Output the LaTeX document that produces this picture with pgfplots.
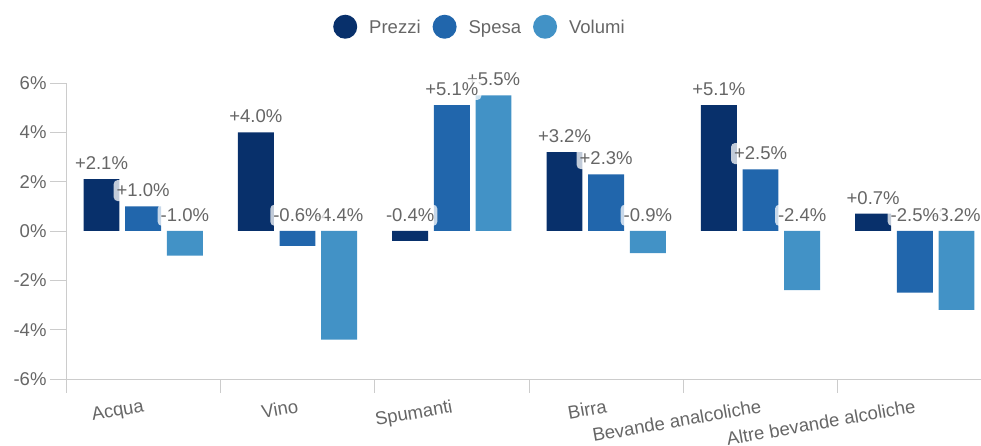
\documentclass[border=0pt]{standalone}
\usepackage{pgfplots}
\pgfplotsset{compat=1.18}
\usepackage{pgfplotstable}
\usepackage{fontspec}
\setmainfont{Liberation Sans}
\definecolor{cP}{HTML}{08306B}
\definecolor{cS}{HTML}{2166AC}
\definecolor{cV}{HTML}{4292C6}
\definecolor{txt}{HTML}{666666}
\definecolor{axc}{HTML}{CCCCCC}
\pgfplotstableread{
cat Prezzi Spesa Volumi
0 2.1 1.0 -1.0
1 4.0 -0.6 -4.4
2 -0.4 5.1 5.5
3 3.2 2.3 -0.9
4 5.1 2.5 -2.4
5 0.7 -2.5 -3.2
}\data
\pgfplotsset{
  lbl/.style={draw=none, mark=none, forget plot, point meta=explicit,
    nodes near coords={\pgfmathprintnumber[showpos,fixed,fixed zerofill,precision=1,assume math mode=true]{\pgfplotspointmeta}\%},
    every node near coord/.append style={anchor=south, yshift=5pt, fill=white, fill opacity=0.75, text opacity=1, text=txt, rounded corners=4pt, inner xsep=3pt, inner ysep=4pt}},
}
\begin{document}
\begin{tikzpicture}[x=1pt,y=1pt,font=\fontsize{18.5}{22}\selectfont]
\useasboundingbox (0,0) rectangle (981,446);
\begin{axis}[
  at={(66pt,67pt)}, anchor=south west,
  scale only axis, width=926pt, height=296pt,
  xmin=-0.5, xmax=5.5, ymin=-6, ymax=6,
  clip=false,
  axis x line*=bottom, axis y line*=left,
  axis line style={-, draw=axc, line width=0.8pt},
  tick align=outside,
  ytick={-6,-4,...,6},
  major tick length=16pt,
  minor tick length=14pt,
  xtick={0,...,5},
  xticklabels={Acqua, Vino, Spumanti, Birra, Bevande analcoliche, Altre bevande alcoliche},
  minor xtick={-0.5,0.5,...,5.5},
  major x tick style={draw=none},
  tick style={draw=axc, line width=0.8pt},
  /pgf/number format/assume math mode=true,
  yticklabel={\pgfmathprintnumber{\tick}\%},
  yticklabel style={text=txt},
  xticklabel style={text=txt, yshift=0pt, xshift=2pt, rotate=10, anchor=north east},
  legend style={at={(axis description cs:0.447,1.19)}, anchor=center, draw=none, fill=none, legend columns=-1, text=txt, /tikz/every even column/.append style={column sep=10pt}, /tikz/every odd column/.append style={column sep=10pt}},
]
\addplot[ybar, bar width=0.233, bar shift=-0.27, fill=cP, draw=none, legend image code/.code={\fill[cP] (12pt,1pt) circle (12pt);}] table[x=cat,y=Prezzi]{\data};
\addplot[ybar, bar width=0.233, bar shift=0, fill=cS, draw=none, legend image code/.code={\fill[cS] (12pt,1pt) circle (12pt);}] table[x=cat,y=Spesa]{\data};
\addplot[ybar, bar width=0.233, bar shift=0.27, fill=cV, draw=none, legend image code/.code={\fill[cV] (12pt,1pt) circle (12pt);}] table[x=cat,y=Volumi]{\data};
\legend{Prezzi,Spesa,Volumi}
\addplot[lbl] table[x expr=\thisrow{cat}+0.27, y expr={max(\thisrow{Volumi},0)}, meta=Volumi]{\data};
\addplot[lbl] table[x expr=\thisrow{cat}, y expr={max(\thisrow{Spesa},0)}, meta=Spesa]{\data};
\addplot[lbl] table[x expr=\thisrow{cat}-0.27, y expr={max(\thisrow{Prezzi},0)}, meta=Prezzi]{\data};
\end{axis}
\end{tikzpicture}
\end{document}
